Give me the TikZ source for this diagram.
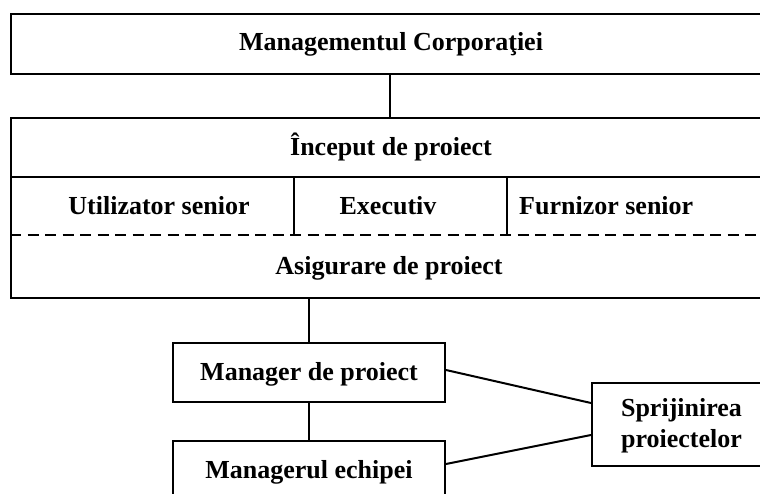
\documentclass[tikz,border=0pt]{standalone}
\usepackage{fontspec}
\setmainfont{Liberation Serif}
\begin{document}
\begin{tikzpicture}[x=1pt,y=-1pt,
  frame/.style={draw, line width=2pt, inner sep=0pt, anchor=north west},
  bold/.style={font=\fontsize{26}{31}\selectfont\bfseries, inner sep=0pt, align=center},
  lbl/.style={bold, text height=20pt, text depth=4pt},
  wire/.style={line width=2pt},
  sep/.style={line width=2pt, dash pattern=on 11pt off 6.5pt}]
\useasboundingbox (0,0) rectangle (760,493);

% corporate management
\node[frame, minimum width=768pt, minimum height=60pt] (corp) at (10,12.7) {};
\node[lbl] (corpT) at (391,42.7) {Managementul Corporaţiei};

% project board with its three roles and assurance band
\node[frame, minimum width=768pt, minimum height=180.3pt] (board) at (10,116.7) {};
\coordinate (r1) at (10,177);
\coordinate (r2) at (10,235);
\draw[wire] (r1 -| board.west) -- (r1 -| board.east);
\draw[sep] (r2 -| board.west) -- (r2 -| board.east);
\coordinate (c1) at (294,0);
\coordinate (c2) at (506.5,0);
\draw[wire] (r1 -| c1) -- (r2 -| c1);
\draw[wire] (r1 -| c2) -- (r2 -| c2);
\node[lbl] (start) at (391,147) {Început de proiect};
\node[lbl] (user) at (159,206) {Utilizator senior};
\node[lbl] (exec) at (388,206) {Executiv};
\node[lbl, anchor=west] (supp) at (519,206) {Furnizor senior};
\node[lbl] (assur) at (389,266) {Asigurare de proiect};

% management line
\node[frame, minimum width=272pt, minimum height=59pt] (pm) at (172,342) {};
\node[lbl] at (pm.center) {Manager de proiect};
\node[frame, minimum width=272pt, minimum height=59pt] (tm) at (172,440) {};
\node[lbl] at (tm.center) {Managerul echipei};
\node[frame, minimum width=180pt, minimum height=83pt] (sup) at (591,382) {};
\node[bold] at ([xshift=-0.5pt, yshift=-1pt]sup.center) {Sprijinirea\\proiectelor};

% connectors
\coordinate (top) at (390,0);
\draw[wire] (corp.south -| top) -- (board.north -| top);
\draw[wire] (board.south -| pm.center) -- (pm.north);
\draw[wire] (pm.south) -- (tm.north);
\draw[wire] ([yshift=2.5pt]pm.east) -- ([yshift=21.5pt]sup.west);
\draw[wire] ([yshift=6.5pt]tm.east) -- ([yshift=-10.5pt]sup.west);
\end{tikzpicture}
\end{document}
